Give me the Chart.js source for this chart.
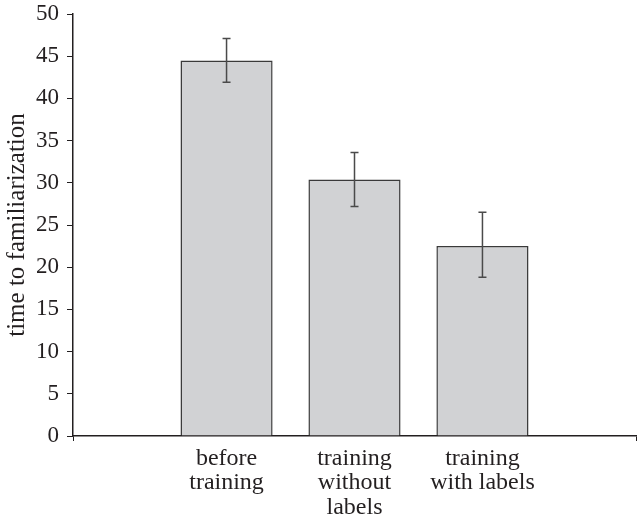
<!DOCTYPE html>
<html>
<head>
<meta charset="utf-8">
<script src="https://cdn.jsdelivr.net/npm/chart.js@4.4.1/dist/chart.umd.min.js"></script>
<style>
  html, body { margin: 0; padding: 0; background: #fff; }
  #wrap { width: 637px; height: 524px; }
</style>
</head>
<body>
<div id="wrap"><canvas id="chart"></canvas></div>
<script>
/* ── Data ── */
const categories = [['before', 'training'], ['training', 'without', 'labels'], ['training', 'with labels']];
const meanTime   = [44.5, 30.4, 22.5];
const errHigh    = [47.1, 33.6, 26.5];
const errLow     = [41.9, 27.2, 18.8];
const yTicks     = [0, 5, 10, 15, 20, 25, 30, 35, 40, 45, 50];

const INK = '#231f20';
const FONT = 'Liberation Serif';

/* ── Error bars drawn on top of the bars ── */
const errorBars = {
  id: 'errorBars',
  afterDatasetsDraw(chart) {
    const ctx = chart.ctx;
    const y = chart.scales.y;
    const meta = chart.getDatasetMeta(0);
    ctx.save();
    ctx.strokeStyle = '#4a4a4a';
    ctx.lineWidth = 1.5;
    meta.data.forEach((bar, i) => {
      const top = y.getPixelForValue(errHigh[i]);
      const bot = y.getPixelForValue(errLow[i]);
      ctx.beginPath();
      ctx.moveTo(bar.x, top); ctx.lineTo(bar.x, bot);
      ctx.moveTo(bar.x - 4, top); ctx.lineTo(bar.x + 4, top);
      ctx.moveTo(bar.x - 4, bot); ctx.lineTo(bar.x + 4, bot);
      ctx.stroke();
    });
    ctx.restore();
  }
};

const X_MIN = -0.2, X_MAX = 4.2;

new Chart(document.getElementById('chart'), {
  type: 'bar',
  data: {
    datasets: [{
      data: meanTime.map((v, i) => ({ x: i + 1, y: v })),
      backgroundColor: '#d1d2d4',
      borderColor: '#3a3a3a',
      borderWidth: 1.5,
      categoryPercentage: 1,
      barPercentage: 0.72,
    }]
  },
  options: {
    responsive: true,
    maintainAspectRatio: false,
    animation: false,
    layout: { padding: { top: 0, right: 1, left: 0, bottom: 0 } },
    plugins: { legend: { display: false }, tooltip: { enabled: false } },
    scales: {
      x: {
        type: 'linear',
        offset: false,
        min: X_MIN,
        max: X_MAX,
        afterBuildTicks(scale) {
          scale.ticks = [X_MIN, 1, 2, 3, X_MAX].map(v => ({ value: v }));
        },
        afterFit(scale) {
          scale.height = 88;
          scale.paddingLeft = 0;
          scale.paddingRight = 0;
        },
        ticks: {
          color: INK,
          font: { family: FONT, size: 24, lineHeight: 1.03 },
          padding: 5,
          maxRotation: 0,
          autoSkip: false,
          callback: (v) => Number.isInteger(v) ? categories[v - 1] : '',
        },
        grid: {
          offset: false,
          drawOnChartArea: false,
          tickLength: 5,
          color: (c) => (c.tick && Number.isInteger(c.tick.value)) ? 'rgba(0,0,0,0)' : INK,
        },
        border: { display: true, color: INK, width: 1.5 },
      },
      y: {
        min: 0,
        max: 50,
        afterBuildTicks(scale) {
          scale.ticks = yTicks.map(v => ({ value: v }));
        },
        afterFit(scale) {
          scale.width = 73;
          scale.paddingTop = 14;
          scale.paddingBottom = 0;
        },
        ticks: {
          color: INK,
          font: { family: FONT, size: 23 },
          padding: 8,
        },
        grid: { drawOnChartArea: false, tickLength: 6, color: INK },
        border: { display: true, color: INK, width: 1.5 },
        title: {
          display: true,
          text: 'time to familiarization',
          color: INK,
          font: { family: FONT, size: 25 },
          padding: { top: 2, bottom: 2 },
        },
      },
    },
  },
  plugins: [errorBars],
});
</script>
</body>
</html>
